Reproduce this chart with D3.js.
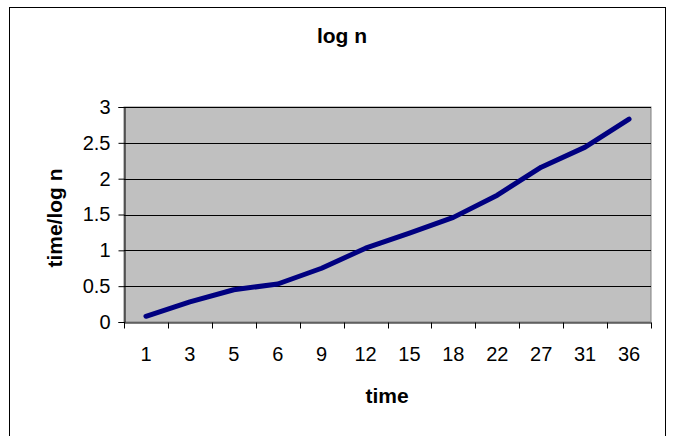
<!DOCTYPE html>
<html><head><meta charset="utf-8">
<script src="https://cdn.jsdelivr.net/npm/d3@7"></script>
<style>html,body{margin:0;padding:0;background:#fff;}svg{display:block;}</style>
</head><body>
<svg id="chart" width="675" height="436"></svg>
<script>
const categories = ["1","3","5","6","9","12","15","18","22","27","31","36"];
const values = [0.08,0.28,0.45,0.53,0.75,1.03,1.24,1.46,1.77,2.16,2.44,2.83];
const yTicks = [0,0.5,1,1.5,2,2.5,3];
const titleText = "log n";
const xTitle = "time";
const yTitle = "time/log n";

const svg = d3.select("#chart");
const font = "'Liberation Sans', Arial, sans-serif";
const L = 124, R = 651, T = 107, B = 322;

svg.append("rect").attr("x",9.5).attr("y",7.5).attr("width",656).attr("height",445)
  .attr("fill","#fff").attr("stroke","#000").attr("stroke-width",1);

const x = d3.scaleBand().domain(categories).range([L,R]);
const y = d3.scaleLinear().domain([0,3]).range([B,T]);

svg.append("rect").attr("x",L).attr("y",T).attr("width",R-L).attr("height",B-T)
  .attr("fill","#c0c0c0").attr("stroke","#808080").attr("stroke-width",1);

svg.append("g").selectAll("line").data(yTicks.slice(1)).join("line")
  .attr("x1",L).attr("x2",R).attr("y1",d=>Math.round(y(d))+0.5).attr("y2",d=>Math.round(y(d))+0.5)
  .attr("stroke","#000").attr("stroke-width",1);

const yAxis = svg.append("g").attr("transform",`translate(${L+0.5},0)`)
  .call(d3.axisLeft(y).tickValues(yTicks).tickSize(6).tickPadding(8).tickFormat(d3.format("")));
yAxis.selectAll("text").attr("font-family",font).attr("font-size",20).attr("fill","#000");
yAxis.selectAll("line,path").attr("stroke","#000");

const xAxis = svg.append("g").attr("transform",`translate(0,${B+0.5})`)
  .call(d3.axisBottom(x).tickSize(0).tickPadding(24));
xAxis.select(".domain").attr("stroke","#000");
xAxis.selectAll("text").attr("font-family",font).attr("font-size",20).attr("fill","#000");
const bounds = categories.map(c=>x(c)).concat([R]);
xAxis.append("g").selectAll("line").data(bounds).join("line")
  .attr("x1",d=>Math.round(d)+0.5).attr("x2",d=>Math.round(d)+0.5).attr("y1",0).attr("y2",6)
  .attr("stroke","#000");

const line = d3.line().x((d,i)=>x(categories[i])+x.bandwidth()/2).y(d=>y(d));
svg.append("path").datum(values).attr("d",line).attr("fill","none")
  .attr("stroke","#000080").attr("stroke-width",5).attr("stroke-linecap","round").attr("stroke-linejoin","round");

svg.append("text").attr("x",342).attr("y",43).attr("text-anchor","middle")
  .attr("font-family",font).attr("font-size",21).attr("font-weight","bold").text(titleText);
svg.append("text").attr("x",387).attr("y",403).attr("text-anchor","middle")
  .attr("font-family",font).attr("font-size",21).attr("font-weight","bold").text(xTitle);
svg.append("text").attr("transform","translate(62,218) rotate(-90)").attr("text-anchor","middle")
  .attr("font-family",font).attr("font-size",21).attr("font-weight","bold").text(yTitle);
</script>
</body></html>
